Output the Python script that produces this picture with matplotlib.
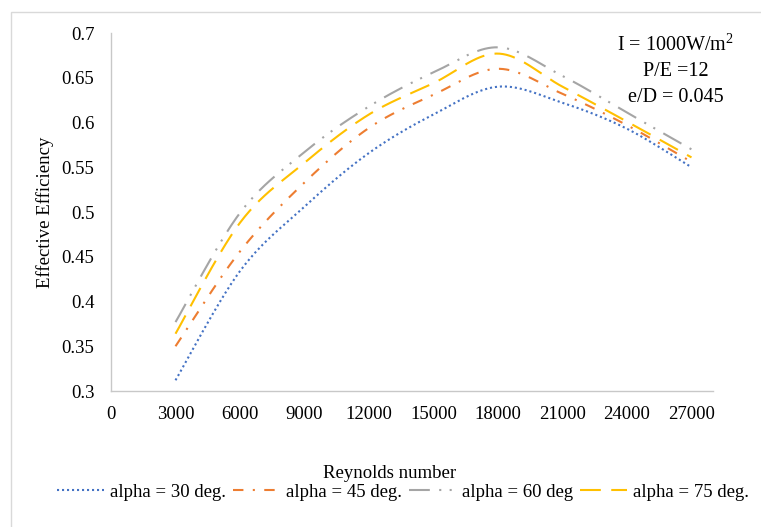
import matplotlib
matplotlib.use('Agg')
import matplotlib.pyplot as plt
import numpy as np
from matplotlib.patches import Rectangle
from matplotlib.ticker import FuncFormatter

plt.rcParams['font.family'] = ['Liberation Serif', 'DejaVu Serif']
plt.rcParams['mathtext.fontset'] = 'custom'
plt.rcParams['mathtext.rm'] = 'Liberation Serif'

reynolds = [3000, 6000, 9000, 12000, 15000, 18000, 21000, 24000, 27000]
eff_30 = [0.312, 0.434, 0.506, 0.566, 0.609, 0.640, 0.622, 0.593, 0.550]
eff_45 = [0.350, 0.456, 0.533, 0.594, 0.631, 0.660, 0.632, 0.597, 0.556]
eff_60 = [0.377, 0.499, 0.567, 0.618, 0.656, 0.684, 0.652, 0.611, 0.570]
eff_75 = [0.364, 0.488, 0.555, 0.609, 0.644, 0.677, 0.640, 0.601, 0.561]
labels = ['alpha = 30 deg.', 'alpha = 45 deg.', 'alpha = 60 deg', 'alpha = 75 deg.']

c30 = '#4472C4'
c45 = '#ED7D31'
c60 = '#A5A5A5'
c75 = '#FFC000'


def smooth(xs, ys, n=40):
    # Catmull-Rom curve through the points, like Excel's smoothed line
    x = np.asarray(xs, float)
    y = np.asarray(ys, float)
    px = np.concatenate([[x[0]], x, [x[-1]]])
    py = np.concatenate([[y[0]], y, [y[-1]]])
    t = np.linspace(0, 1, n)
    out_x, out_y = [], []
    for i in range(len(x) - 1):
        for p, out in ((px, out_x), (py, out_y)):
            p0, p1, p2, p3 = p[i], p[i + 1], p[i + 2], p[i + 3]
            seg = 0.5 * (2 * p1 + (-p0 + p2) * t + (2 * p0 - 5 * p1 + 4 * p2 - p3) * t ** 2
                         + (-p0 + 3 * p1 - 3 * p2 + p3) * t ** 3)
            out.extend(seg if i == 0 else seg[1:])
    return out_x, out_y


fig = plt.figure(figsize=(7.61, 5.27), dpi=100)
fig.patches.append(Rectangle((11 / 761, -0.1), 1.2, 1.1 - 12 / 527,
                             transform=fig.transFigure, fill=False,
                             edgecolor='#D9D9D9', linewidth=1))
ax = fig.add_axes([111 / 761, 1 - 391 / 527, 602 / 761, 358 / 527])

styles = [
    (eff_30, c30, (0, (1, 1.4))),
    (eff_45, c45, (0, (5, 4.5, 1, 4.5))),
    (eff_60, c60, (0, (10, 4.5, 1, 4, 1, 4.5))),
    (eff_75, c75, (0, (10, 5))),
]
for (vals, col, ls), lab in zip(styles, labels):
    sx, sy = smooth(reynolds, vals)
    ax.plot(sx, sy, color=col, linestyle=ls, linewidth=1.5, label=lab)

ax.set_xlim(0, 28000)
ax.set_ylim(0.3, 0.7)
ax.set_xticks(np.arange(0, 27001, 3000))
ax.set_yticks(np.arange(0.3, 0.7001, 0.05))
ax.yaxis.set_major_formatter(FuncFormatter(lambda v, p: '{:g}'.format(round(v, 2))))
ax.tick_params(length=0, labelsize=13.5)
ax.tick_params(axis='y', pad=12)
ax.tick_params(axis='x', pad=11)
for s in ['top', 'right']:
    ax.spines[s].set_visible(False)
for s in ['left', 'bottom']:
    ax.spines[s].set_color('#C8C8C8')
    ax.spines[s].set_linewidth(1)

ax.set_xlabel('Reynolds number', fontsize=13.5, va='center')
ax.xaxis.set_label_coords((390 - 111) / 602, -(473 - 391) / 358)
ax.set_ylabel('Effective Efficiency', fontsize=13.5, va='center')
ax.yaxis.set_label_coords((45 - 111) / 602, 0.5)

fs = 14.5
fig.text(676 / 761, 1 - 45 / 527, r'I = 1000W/m$^{2}$', ha='center', va='center', fontsize=fs)
fig.text(676 / 761, 1 - 72 / 527, 'P/E =12', ha='center', va='center', fontsize=fs)
fig.text(676 / 761, 1 - 97 / 527, 'e/D = 0.045', ha='center', va='center', fontsize=fs)

fig.legend(loc='center', bbox_to_anchor=(403 / 761, 1 - 492 / 527), ncol=4,
           frameon=False, fontsize=13.5, handlelength=2.5, handletextpad=0.3,
           columnspacing=0.4, borderpad=0)

fig.savefig('out.png', dpi=100)
